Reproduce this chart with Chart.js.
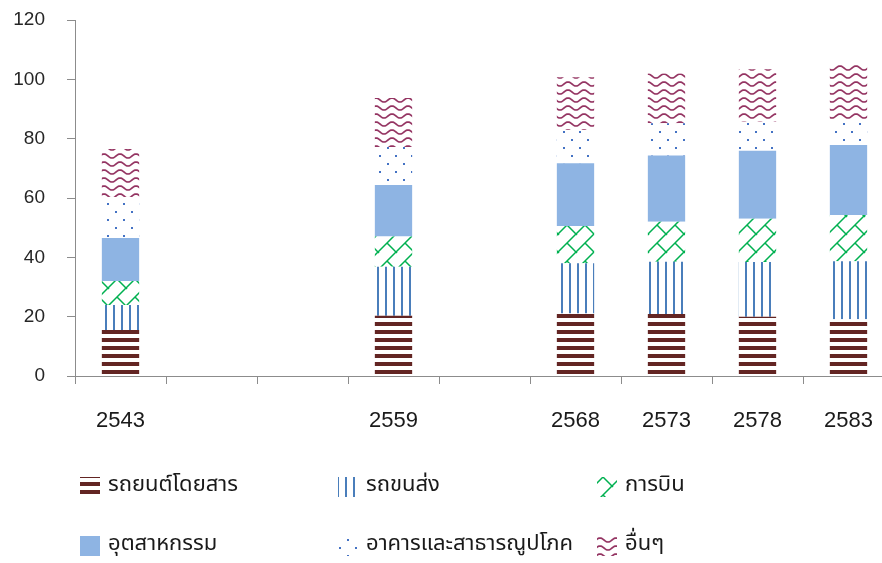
<!DOCTYPE html>
<html>
<head>
<meta charset="utf-8">
<script src="https://cdn.jsdelivr.net/npm/chart.js@4/dist/chart.umd.min.js"></script>
<style>
  html, body { margin: 0; padding: 0; background: #fff; overflow: hidden; }
  #wrap { position: relative; width: 900px; height: 563px; }
</style>
</head>
<body>
<div id="wrap"><canvas id="c"></canvas></div>
<script>
// Years on the category axis (empty slots keep the time spacing)
const years = ['2543', '', '', '2559', '', '2568', '2573', '2578', '2583'];

// Energy demand by sector, stacked
const passengerCars = [15.5, null, null, 20.3, null, 21.1, 20.9, 20.0, 19.1];
const trucks        = [ 8.4, null, null, 16.5, null, 16.9, 17.6, 18.4, 19.6];
const aviation      = [ 8.1, null, null, 10.2, null, 12.6, 13.5, 14.6, 15.6];
const industry      = [14.5, null, null, 17.4, null, 21.1, 22.3, 22.9, 23.6];
const buildings     = [13.8, null, null, 12.8, null, 11.2, 10.9,  9.8,  8.4];
const others        = [16.2, null, null, 16.5, null, 17.8, 16.8, 17.7, 18.5];

const seriesNames = ['รถยนต์โดยสาร', 'รถขนส่ง', 'การบิน', 'อุตสาหกรรม', 'อาคารและสาธารณูปโภค', 'อื่นๆ'];
const yTicks = [0, 20, 40, 60, 80, 100, 120];

const THAI_FONT = "'Noto Sans Thai', 'Tahoma', 'DejaVu Sans', sans-serif";

// Small repeating tiles used as bar fills
function tile(w, h, draw) {
  const c = document.createElement('canvas');
  c.width = w; c.height = h;
  const g = c.getContext('2d');
  g.fillStyle = '#ffffff';
  g.fillRect(0, 0, w, h);
  draw(g, w, h);
  return c;
}
const ctx0 = document.createElement('canvas').getContext('2d');
function pattern(c) { return ctx0.createPattern(c, 'repeat'); }

const fillStripes = pattern(tile(8, 8, (g) => {
  g.fillStyle = '#632523';
  g.fillRect(0, 2, 8, 4);
}));
const fillVertical = pattern(tile(8, 8, (g) => {
  g.fillStyle = '#4a7ebb';
  g.fillRect(1, 0, 2, 8);
}));
const fillBrick = pattern(tile(18, 18, (g) => {
  g.strokeStyle = '#00b050';
  g.lineWidth = 1.5;
  g.beginPath();
  g.moveTo(-1, 19); g.lineTo(19, -1);
  g.moveTo(9, 9); g.lineTo(19, 19);
  g.moveTo(-1, -1); g.lineTo(1, 1);
  g.stroke();
}));
const fillSolid = '#8eb4e3';
const fillDots = pattern(tile(16, 16, (g) => {
  g.fillStyle = '#4472c4';
  g.fillRect(3, 3, 2, 2);
  g.fillRect(11, 11, 2, 2);
}));
const fillWave = pattern(tile(16, 8, (g) => {
  g.strokeStyle = '#943462';
  g.lineWidth = 1.7;
  g.beginPath();
  for (let x = -1; x <= 17; x += 0.5) {
    const y = 4 + 2 * Math.cos((x - 8) / 16 * 2 * Math.PI + Math.PI);
    if (x === -1) g.moveTo(x, y); else g.lineTo(x, y);
  }
  g.stroke();
}));

const seriesValues = [passengerCars, trucks, aviation, industry, buildings, others];
const seriesFills = [fillStripes, fillVertical, fillBrick, fillSolid, fillDots, fillWave];

// Legend laid out as a 3 x 2 grid under the axis
const gridLegend = {
  id: 'gridLegend',
  afterDraw(chart) {
    const ctx = chart.ctx;
    const cols = [80, 338, 597];
    const rows = [487, 546];
    chart.data.datasets.forEach((ds, i) => {
      const x = cols[i % 3];
      const y = rows[Math.floor(i / 3)];
      ctx.save();
      ctx.fillStyle = ds.backgroundColor;
      ctx.fillRect(x, y - 10, 20, 20);
      ctx.fillStyle = '#1a1a1a';
      ctx.font = '22px ' + THAI_FONT;
      ctx.textBaseline = 'middle';
      ctx.textAlign = 'left';
      ctx.fillText(ds.label, x + 28, y);
      ctx.restore();
    });
  }
};

new Chart(document.getElementById('c'), {
  type: 'bar',
  data: {
    labels: years,
    datasets: seriesNames.map((name, i) => ({
      label: name,
      data: seriesValues[i],
      backgroundColor: seriesFills[i],
      borderWidth: 0,
      categoryPercentage: 1,
      barPercentage: 0.41
    }))
  },
  options: {
    responsive: true,
    maintainAspectRatio: false,
    animation: false,
    layout: { padding: { left: 0, top: 20, right: 6, bottom: 0 } },
    plugins: { legend: { display: false }, tooltip: { enabled: false } },
    scales: {
      x: {
        stacked: true,
        grid: { offset: true, drawOnChartArea: false, drawTicks: true, tickLength: 8, color: '#8c8c8c' },
        border: { display: true, color: '#8c8c8c', width: 1 },
        ticks: {
          autoSkip: false, maxRotation: 0, padding: 24, color: '#1a1a1a',
          font: { family: "'Liberation Sans Narrow', 'Liberation Sans', sans-serif", size: 22 }
        },
        afterFit(s) { s.height = 187; }
      },
      y: {
        stacked: true,
        min: yTicks[0],
        max: yTicks[yTicks.length - 1],
        afterBuildTicks(s) { s.ticks = yTicks.map(v => ({ value: v })); },
        grid: { drawOnChartArea: false, drawTicks: true, tickLength: 8, color: '#8c8c8c' },
        border: { display: true, color: '#8c8c8c', width: 1 },
        ticks: {
          padding: 22, color: '#262626',
          font: { family: "'Liberation Sans', sans-serif", size: 19 }
        },
        afterFit(s) {
          s.width = 75;
          s.paddingTop = 0;
          s.paddingBottom = 0;
        }
      }
    }
  },
  plugins: [gridLegend]
});
</script>
</body>
</html>
